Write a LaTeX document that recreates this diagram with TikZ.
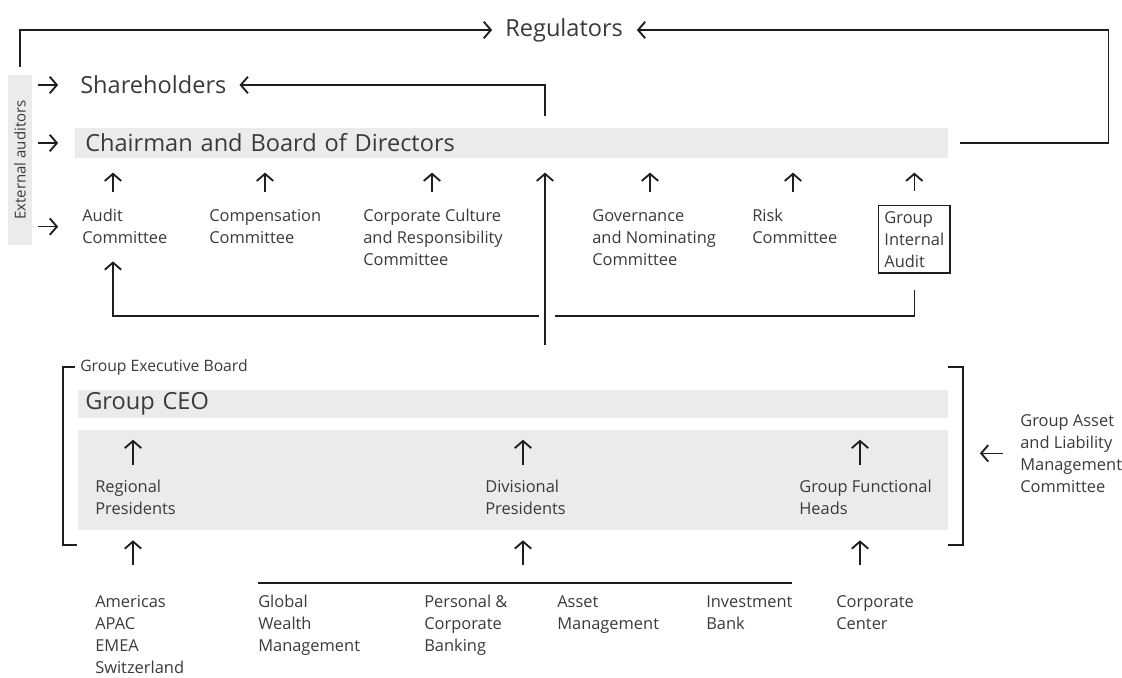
\documentclass[tikz,border=0pt]{standalone}
\usepackage{fontspec}
\setmainfont{Open Sans}
\usetikzlibrary{arrows.meta}

\definecolor{ink}{HTML}{3A3A3A}
\definecolor{rule}{HTML}{1E1E1E}
\definecolor{band}{HTML}{EBEBEB}
\newcommand{\unitpx}{0.7pt}

\tikzset{
  lbl/.style={font=\fontsize{11.5}{15.4}\selectfont, text=ink, align=left, anchor=north west, inner sep=0pt},
  head/.style={font=\fontsize{16.5}{20}\selectfont, text=ink, anchor=west, inner sep=0pt},
  rule/.style={draw=rule, line width=1pt},
  barb/.style={rule, -{Straight Barb[length=5pt,width=11.5pt,line width=1.3pt]}},
}

\begin{document}
\begin{tikzpicture}[x=\unitpx, y=-\unitpx]
	\useasboundingbox (0,0) rectangle (1122,677);
	
	% Aufsicht: Regulatoren, Aktionaere, Verwaltungsrat
	\node[head] (reg) at (505,30) {Regulators};
	\node[head] (share) at (80,85) {Shareholders};
	\node[head, fill=band, minimum height=21pt, text width=597pt, inner xsep=7pt, align=left] (board) at (75,143) {Chairman and Board of Directors};
	\node[rotate=90, fill=band, minimum width=119pt, minimum height=17pt, inner sep=0pt, font=\fontsize{10.5}{12}\selectfont, text=ink] (extaud) at (20,160) {External auditors};
	
	% Ausschuesse des Verwaltungsrats
	\foreach \nm/\x/\ax/\txt in {audit/82/113/{Audit\\Committee}, comp/209/265/{Compensation\\Committee}, culture/363/432/{Corporate Culture\\and Responsibility\\Committee}, gov/592/650/{Governance\\and Nominating\\Committee}, risk/752/793/{Risk\\Committee}} {
		\node[lbl] (\nm) at (\x,209) {\txt};
		\coordinate (\nm-up) at (\ax,192);
		\draw[barb, shorten >=10pt] (\nm-up) -- (board.south -| \nm-up);
	}
	\node[lbl, draw=rule, line width=1pt, inner sep=4pt] (gia) at (878,205) {Group\\Internal\\Audit};
	\draw[barb, shorten <=10pt, shorten >=10pt] (gia.north) -- (board.south -| gia.north);
	
	% Externe Revision
	\draw[barb, shorten <=5.6pt, shorten >=9pt] (extaud.east) |- (reg.west);
	\draw[barb, shorten <=8.4pt, shorten >=9.5pt] (board.east) -- ++(160,0) |- (reg.east);
	\foreach \t in {share, board, audit}
		\draw[barb] ([xshift=4pt]extaud.south |- \t.west) -- ++(20,0);
	
	% Konzernleitung nach oben
	\coordinate (spine) at (545,345);
	\coordinate (cross) at (545,316);
	\draw[barb, shorten >=10pt] (spine) -- (board.south -| spine);
	\draw[barb, shorten <=8.4pt, shorten >=9pt] (board.north -| spine) |- (share.east);
	\draw[barb, shorten <=4.2pt, shorten >=12pt] (cross) -| (audit.south -| audit-up);
	\draw[rule, shorten <=7pt, shorten >=11pt] (cross) -| (gia.south);
	
	% Group Executive Board
	\node[lbl, font=\fontsize{11}{13}\selectfont, anchor=west] (geb) at (80,367) {Group Executive Board};
	\node[head, fill=band, minimum height=19.6pt, text width=599pt, inner xsep=4.9pt, align=left] (ceo) at (78,404) {Group CEO};
	\node[fill=band, minimum width=609pt, minimum height=70pt, inner sep=0pt] (panel) at (513,480) {};
	\draw[rule] ([xshift=-3.5pt]geb.west) -| (63,545) -- ++(14,0);
	\draw[rule] (948,367) -| (963,545) -- ++(-15,0);
	
	\foreach \nm/\x/\ax/\txt in {regional/95/133/{Regional\\Presidents}, divisional/485/523/{Divisional\\Presidents}, functional/799/860/{Group Functional\\Heads}} {
		\node[lbl] (\nm) at (\x,480) {\txt};
		\coordinate (\nm-up) at (\ax,465);
		\draw[barb, shorten >=15pt] (\nm-up) -- (ceo.south -| \nm-up);
		\coordinate (\nm-in) at (\ax,565);
		\draw[barb, shorten >=7pt] (\nm-in) -- (panel.south -| \nm-in);
	}
	
	\node[lbl] (galm) at (1020,414) {Group Asset\\and Liability\\Management\\Committee};
	\draw[barb] ([xshift=-12pt]galm.west) -- ++(-23,0);
	
	% Regionen, Divisionen, Corporate Center
	\foreach \nm/\x/\txt in {regions/95/{Americas\\APAC\\EMEA\\Switzerland}, gwm/258/{Global\\Wealth\\Management}, pcb/424/{Personal \&\\Corporate\\Banking}, am/557/{Asset\\Management}, ib/706/{Investment\\Bank}, cc/836/{Corporate\\Center}}
		\node[lbl] (\nm) at (\x,595) {\txt};
	\draw[rule, line width=1.6pt] (gwm.north west) ++(0,-12) -- ++(534,0);
\end{tikzpicture}
\end{document}
